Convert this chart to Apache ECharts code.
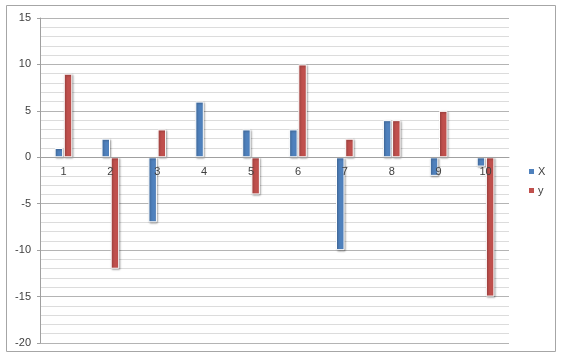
<!DOCTYPE html>
<html><head><meta charset="utf-8">
<script src="https://cdn.jsdelivr.net/npm/echarts@6/dist/echarts.min.js"></script>
<style>html,body{margin:0;padding:0;background:#fff}#c{width:573px;height:357px}</style>
</head><body><div id="c"></div>
<script>
var categories = ['1','2','3','4','5','6','7','8','9','10'];
var xValues = [1, 2, -7, 6, 3, 3, -10, 4, -2, -1];
var yValues = [9, -12, 3, 0, -4, 10, 2, 4, 5, -15];
var seriesNames = ['X', 'y'];
var yTicks = {min: -20, max: 15, interval: 5};

var chart = echarts.init(document.getElementById('c'), null, {renderer: 'canvas'});
var font = 'Liberation Sans, Arial, sans-serif';
var gridTop = 18, gridBottom = 14, H = 357;
var plotH = H - gridTop - gridBottom;
var zeroOffset = -plotH * (0 - yTicks.min) / (yTicks.max - yTicks.min);
function barStyle(color) {
  return {
    color: color, borderColor: '#fff', borderWidth: 1,
    shadowColor: 'rgba(0,0,0,0.35)', shadowBlur: 2, shadowOffsetX: 1, shadowOffsetY: 1
  };
}
function toData(arr) { return arr.map(function (v) { return v === 0 ? null : v; }); }
chart.setOption({
  animation: false,
  graphic: [{type: 'rect', shape: {x: 6.5, y: 5.5, width: 549, height: 346}, style: {fill: 'none', stroke: '#a6a6a6', lineWidth: 1}, z: -1}],
  grid: {left: 40, right: 64, top: gridTop, bottom: gridBottom, containLabel: false},
  legend: {
    orient: 'vertical', left: 522, top: 161, itemWidth: 7, itemHeight: 7, itemGap: 8,
    icon: 'rect', data: seriesNames,
    textStyle: {fontFamily: font, fontSize: 11, color: '#404040', padding: [0, 0, 0, -2]}
  },
  xAxis: {
    type: 'category', data: categories, position: 'bottom', offset: zeroOffset, z: 5,
    axisLine: {onZero: false, lineStyle: {color: '#a0a0a0'}},
    axisTick: {show: false},
    axisLabel: {fontFamily: font, fontSize: 11, color: '#404040', margin: 9},
    splitLine: {show: false}
  },
  yAxis: {
    type: 'value', min: yTicks.min, max: yTicks.max, interval: yTicks.interval,
    axisLine: {show: true, lineStyle: {color: '#a0a0a0'}},
    axisTick: {show: true, length: 3, lineStyle: {color: '#a0a0a0'}},
    axisLabel: {fontFamily: font, fontSize: 11, color: '#404040', margin: 9},
    splitLine: {lineStyle: {color: '#b4b4b4'}},
    minorTick: {show: false, splitNumber: 5},
    minorSplitLine: {show: true, lineStyle: {color: '#dcdcdc'}}
  },
  series: [
    {name: seriesNames[0], type: 'bar', data: toData(xValues), barWidth: 8.5, barGap: '8%', itemStyle: barStyle('#4F81BD')},
    {name: seriesNames[1], type: 'bar', data: toData(yValues), barWidth: 8.5, barGap: '8%', itemStyle: barStyle('#C0504D')}
  ]
});
</script></body></html>
